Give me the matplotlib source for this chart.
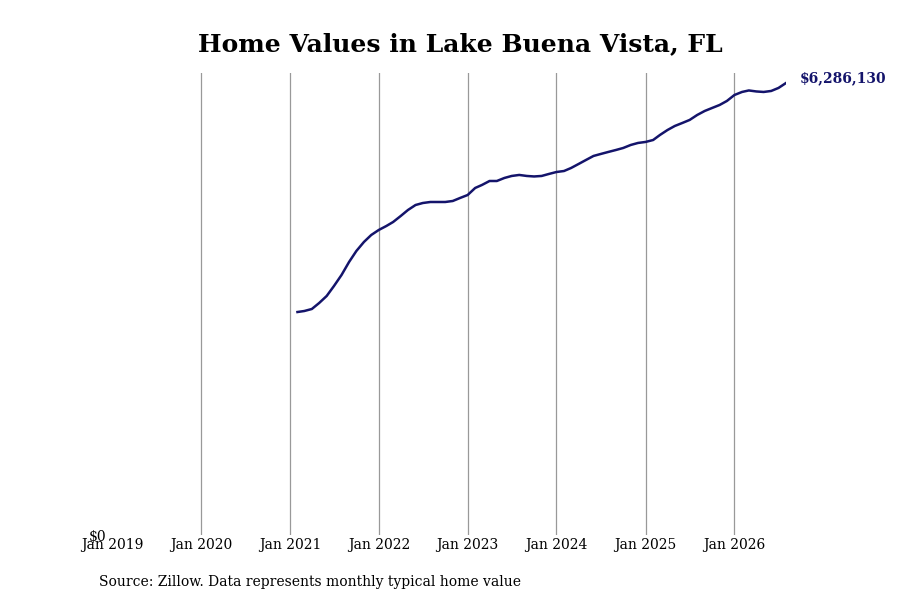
import matplotlib
matplotlib.use("Agg")
import matplotlib.pyplot as plt
import matplotlib.dates as mdates
import numpy as np
import pandas as pd

# Monthly typical home value, Feb 2021 - Aug 2026
start_month = "2021-02-01"
values = [
    3101000, 3115000, 3143000, 3226000, 3324000, 3463000, 3616000, 3797000,
    3950000, 4075000, 4172000,                                   # 2021
    4242000, 4297000, 4353000, 4436000, 4520000, 4589000, 4617000, 4631000,
    4631000, 4631000, 4645000, 4687000,                          # 2022
    4728000, 4826000, 4868000, 4923000, 4923000, 4965000, 4993000, 5007000,
    4993000, 4986000, 4993000, 5021000,                          # 2023
    5048000, 5062000, 5104000, 5160000, 5215000, 5271000, 5299000, 5327000,
    5354000, 5382000, 5424000, 5452000,                          # 2024
    5466000, 5493000, 5563000, 5632000, 5688000, 5730000, 5772000, 5841000,
    5897000, 5938000, 5980000, 6036000,                          # 2025
    6119000, 6161000, 6182000, 6168000, 6161000, 6175000, 6217000, 6286130,  # 2026
]
dates = pd.date_range(start_month, periods=len(values), freq="MS")
tick_years = list(range(2019, 2027))

line_color = "#14146b"
plt.rcParams["font.family"] = "DejaVu Serif"

fig = plt.figure(figsize=(9, 6), dpi=100)
ax = fig.add_axes([0.1244, 0.1083, 0.749, 0.7700])

ax.plot(dates, values, color=line_color, linewidth=1.8)

ax.set_xlim(pd.Timestamp("2019-01-01"), dates[-1])
ax.set_ylim(0, values[-1] * 1.022)

ax.set_xticks([pd.Timestamp(f"{y}-01-01") for y in tick_years])
ax.xaxis.set_major_formatter(mdates.DateFormatter("%b %Y"))
ax.set_yticks([0])
ax.set_yticklabels(["$0"])
ax.tick_params(length=0, labelsize=10)
ax.tick_params(axis="x", pad=2)
ax.tick_params(axis="y", pad=4)
ax.grid(axis="x", color="#999999", linewidth=0.9)
ax.get_xgridlines()[0].set_visible(False)  # no line at the axis edge
for s in ax.spines.values():
    s.set_visible(False)

ax.annotate(f"${values[-1]:,.0f}", xy=(dates[-1], values[-1]), xytext=(10, 3.5),
            textcoords="offset points", color=line_color, fontsize=10,
            fontweight="bold", ha="left", va="center", annotation_clip=False)

fig.text(0.512, 0.927, "Home Values in Lake Buena Vista, FL", ha="center",
         va="center", fontsize=18, fontweight="bold")
fig.text(0.11, 0.03, "Source: Zillow. Data represents monthly typical home value",
         ha="left", va="center", fontsize=10)

fig.savefig("out.png", dpi=100)
